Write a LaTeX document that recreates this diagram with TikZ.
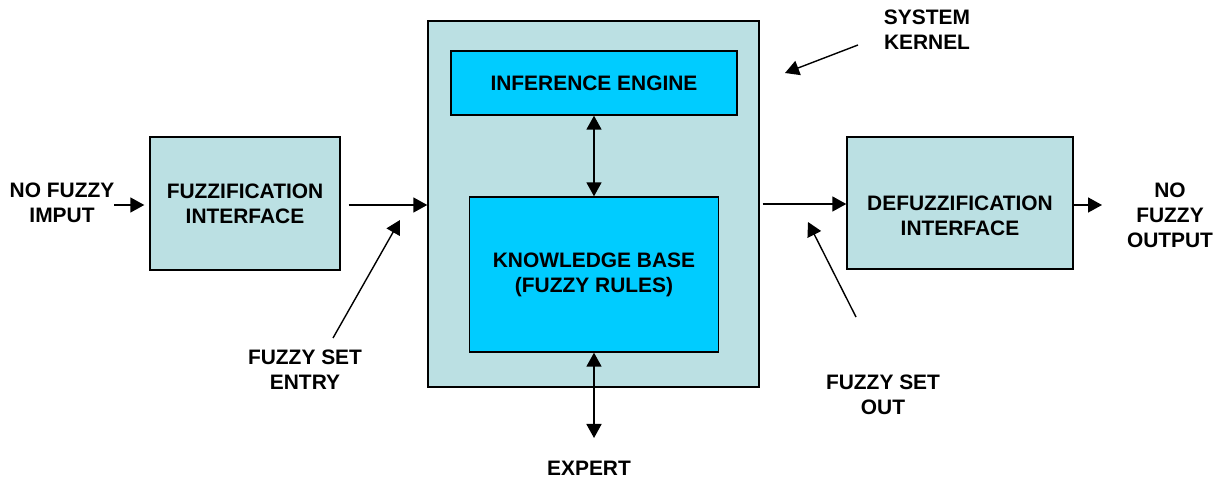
\documentclass[tikz,border=0pt]{standalone}
\usepackage{fontspec}
\setmainfont{Liberation Sans}
\usetikzlibrary{arrows.meta}
\definecolor{paleteal}{RGB}{187,224,227}
\definecolor{brightcyan}{RGB}{0,204,255}
\begin{document}
\begin{tikzpicture}[x=1bp,y=-1bp,
  every node/.style={font=\fontsize{21}{25}\selectfont\bfseries, align=center, inner sep=0pt},
  block/.style={draw=black, line width=1.4bp, fill=paleteal},
  inner/.style={draw=black, line width=1.4bp, fill=brightcyan},
  flow/.style={line width=1.6bp, -{Triangle[length=14bp,width=15bp]}},
  both/.style={line width=1.8bp, {Triangle[length=14bp,width=15bp]}-{Triangle[length=14bp,width=15bp]}},
  pointer/.style={line width=1.4bp, -{Triangle[length=14bp,width=15bp]}}]
\useasboundingbox (0,0) rectangle (1221,480);

% main blocks
\node[block, minimum width=190bp, minimum height=133bp] (fuzz) at (245,203.5) {FUZZIFICATION\\INTERFACE};
\node[block, minimum width=331bp, minimum height=366bp] (kernel) at (593.5,204) {};
\node[inner, minimum width=286bp, minimum height=64bp] (engine) at (594,83) {INFERENCE ENGINE};
\node[inner, minimum width=249bp, minimum height=155bp] (kb) at (594,274.5) {KNOWLEDGE BASE\\(FUZZY RULES)};
\node[block, minimum width=226bp, minimum height=132bp] (defuzz) at (960,203) {};
\node (defuzztext) at (960,216) {DEFUZZIFICATION\\INTERFACE};

% outer labels
\node (input) at (62,203) {NO FUZZY\\IMPUT};
\node (output) at (1170,215) {NO\\FUZZY\\OUTPUT};
\node (expert) at (589,468) {EXPERT};
\node (entry) at (305,370) {FUZZY SET\\ENTRY};
\node (setout) at (883,395) {FUZZY SET\\OUT};
\node (sysk) at (927,30) {SYSTEM\\KERNEL};

% free ends of connectors
\coordinate (outend) at (1102,205);
\coordinate (expend) at (594,438);
\coordinate (entrytail) at (333,338);
\coordinate (entryhead) at (400,220);
\coordinate (outtail) at (856,317);
\coordinate (outhead) at (808,222);
\coordinate (sktail) at (858,45);
\coordinate (skhead) at (785,73);

% signal flow
\draw[flow, shorten >=5bp] (input.east |- 0,205) -- (fuzz.west |- 0,205);
\draw[flow, shorten <=8bp] (fuzz.east |- 0,205) -- (kernel.west |- 0,205);
\draw[flow, shorten <=3bp] (kernel.east |- 0,204) -- (defuzz.west |- 0,204);
\draw[flow] (defuzz.east |- 0,205) -- (outend);
\draw[both] (engine.south) -- (kb.north);
\draw[both] (kb.south) -- (expend);

% annotation pointers
\draw[pointer] (entrytail) -- (entryhead);
\draw[pointer] (outtail) -- (outhead);
\draw[pointer] (sktail) -- (skhead);
\end{tikzpicture}
\end{document}
